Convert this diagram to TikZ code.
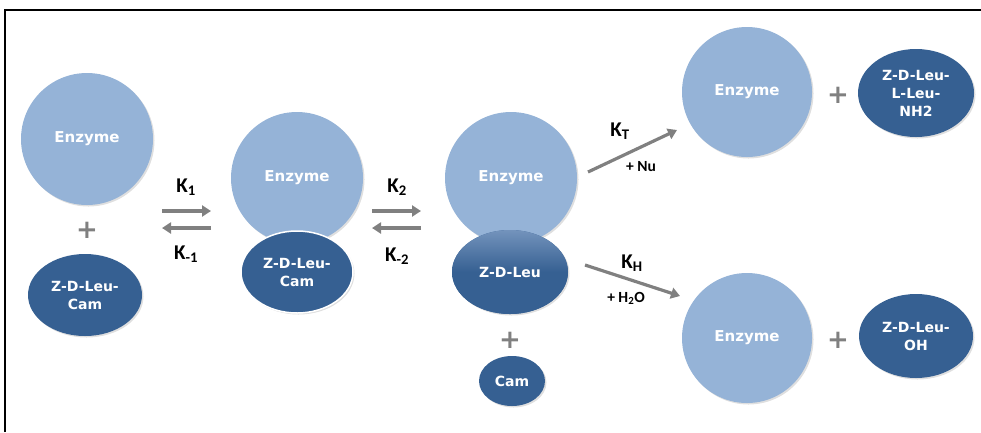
\documentclass[tikz,border=0pt]{standalone}
\usepackage{fontspec}
\setmainfont{DejaVu Sans}
\newfontfamily\klabel{Carlito}
\usetikzlibrary{positioning, arrows.meta, shadows, shapes.geometric}
\definecolor{enzblue}{HTML}{95B3D7}
\definecolor{subblue}{HTML}{366092}
\definecolor{subtop}{HTML}{7393BC}
\definecolor{arrowgray}{HTML}{808080}

\tikzset{
  enzyme/.style={circle, fill=enzblue, minimum size=132pt, inner sep=0pt,
    text=white, font=\bfseries\fontsize{15}{17}\selectfont,
    drop shadow={opacity=0.25, shadow xshift=1.5pt, shadow yshift=-1.5pt}},
  substrate/.style={ellipse, fill=subblue, minimum width=114pt, minimum height=82pt,
    inner sep=0pt, text=white, align=center,
    font=\bfseries\fontsize{14}{18}\selectfont,
    drop shadow={opacity=0.25, shadow xshift=1.5pt, shadow yshift=-1.5pt}},
  plus/.style={text=arrowgray, font=\bfseries\fontsize{26}{26}\selectfont},
  rate/.style={font=\klabel\bfseries\fontsize{21}{24}\selectfont},
  cond/.style={font=\klabel\bfseries\fontsize{15.5}{18}\selectfont},
  flow/.style={draw=arrowgray, line width=3.2pt,
    -{Triangle[length=9pt, width=11pt]}},
}

\begin{document}
\begin{tikzpicture}[x=1pt, y=-1pt]
  \useasboundingbox (0,0) rectangle (981,432);
  % frame
  \draw[line width=2.5pt] (5,432) -- (5,10) -- (981,10);

  % free enzyme and substrate
  \node[enzyme] (enz1) at (87,139) {Enzyme};
  \node[plus] (plus1) at (87,230) {+};
  \node[substrate] (sub1) at (85,295) {Z-D-Leu-\\Cam};

  % Michaelis complex
  \node[enzyme] (enz2) at (297,178) {Enzyme};
  \node[substrate, minimum width=112pt, draw=white, line width=1.5pt] (sub2) at (297,272) {Z-D-Leu-\\Cam};

  % acyl enzyme
  \node[enzyme] (enz3) at (511,178) {Enzyme};
  \node[substrate, minimum width=116pt, minimum height=84pt,
        top color=subtop, bottom color=subblue, middle color=subblue] (sub3) at (510,272) {Z-D-Leu};
  \node[plus] (plus3) at (510,340) {+};
  \node[substrate, minimum width=66pt, minimum height=50pt] (cam) at (512,381) {Cam};

  % products
  \node[enzyme, minimum size=130pt] (enz4) at (747,92) {Enzyme};
  \node[plus] (plus4) at (838,95) {+};
  \node[substrate, minimum width=116pt, minimum height=88pt] (prodT) at (916,93) {Z-D-Leu-\\L-Leu-\\NH2};
  \node[enzyme, minimum size=130pt] (enz5) at (747,338) {Enzyme};
  \node[plus] (plus5) at (838,340) {+};
  \node[substrate, minimum width=114pt, minimum height=84pt] (prodH) at (916,336) {Z-D-Leu-\\OH};

  % equilibrium arrows
  \coordinate (k1a) at (162,211); \coordinate (k1b) at (211,211);
  \coordinate (k1c) at (211,228); \coordinate (k1d) at (162,228);
  \draw[flow] (k1a) -- (k1b);
  \draw[flow] (k1c) -- (k1d);
  \node[rate] (k1) at (186,187) {K\textsubscript{1}};
  \node[rate] (km1) at (186,254) {K\textsubscript{-1}};

  \coordinate (k2a) at (372,211); \coordinate (k2b) at (421,211);
  \coordinate (k2c) at (421,228); \coordinate (k2d) at (372,228);
  \draw[flow] (k2a) -- (k2b);
  \draw[flow] (k2c) -- (k2d);
  \node[rate] (k2) at (397,187) {K\textsubscript{2}};
  \node[rate] (km2) at (397,256) {K\textsubscript{-2}};

  % transfer / hydrolysis
  \coordinate (kta) at (588,172); \coordinate (ktb) at (677,130);
  \draw[flow] (kta) -- (ktb);
  \node[rate] (kT) at (620,131) {K\textsubscript{T}};
  \node[cond] (nu) at (641,167) {+ Nu};

  \coordinate (kha) at (585,265); \coordinate (khb) at (680,296);
  \draw[flow] (kha) -- (khb);
  \node[rate] (kH) at (632,263) {K\textsubscript{H}};
  \node[cond] (water) at (626,298) {+ H\textsubscript{2}O};
\end{tikzpicture}
\end{document}
